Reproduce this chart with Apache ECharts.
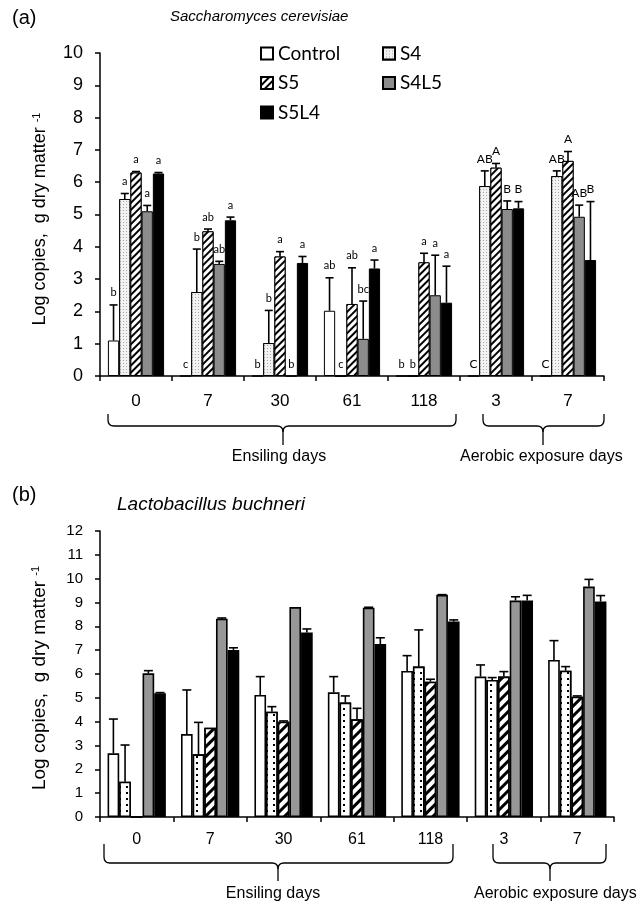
<!DOCTYPE html>
<html><head><meta charset="utf-8">
<script src="https://cdn.jsdelivr.net/npm/echarts@6/dist/echarts.min.js"></script>
<style>html,body{margin:0;padding:0;background:#fff}#c{width:638px;height:903px}</style>
</head><body><div id="c"></div><script>
// ---- data ----
const categories = ['0', '7', '30', '61', '118', '3', '7'];
const seriesNames = ['Control', 'S4', 'S5', 'S4L5', 'S5L4'];

// (a) Saccharomyces cerevisiae
const aControl = [1.1, 0, 0, 2.02, 0, 0, 0];
const aControlErr = [1.1, 0, 0, 1.02, 0, 0, 0];
const aS4 = [5.48, 2.6, 1.02, 0, 0, 5.88, 6.19];
const aS4Err = [0.17, 1.33, 1.01, 0, 0, 0.47, 0.16];
const aS5 = [6.3, 4.48, 3.7, 2.23, 3.52, 6.45, 6.66];
const aS5Err = [0.03, 0.07, 0.15, 1.12, 0.28, 0.13, 0.29];
const aS4L5 = [5.1, 3.47, 0, 1.15, 2.5, 5.17, 4.93];
const aS4L5Err = [0.18, 0.08, 0, 1.17, 1.24, 0.25, 0.36];
const aS5L4 = [6.27, 4.82, 3.5, 3.33, 2.27, 5.19, 3.59];
const aS5L4Err = [0.03, 0.1, 0.2, 0.26, 1.13, 0.21, 1.81];
const aControlLetters = ['b', 'c', 'b', 'ab', 'b', 'C', 'C'];
const aS4Letters = ['a', 'b', 'b', 'c', 'b', 'AB', 'AB'];
const aS5Letters = ['a', 'ab', 'a', 'ab', 'a', 'A', 'A'];
const aS4L5Letters = ['a', 'ab', 'b', 'bc', 'a', 'B', 'AB'];
const aS5L4Letters = ['a', 'a', 'a', 'a', 'a', 'B', 'B'];

// (b) Lactobacillus buchneri
const bControl = [2.67, 3.48, 5.12, 5.23, 6.13, 5.89, 6.59];
const bControlErr = [1.44, 1.85, 0.77, 0.66, 0.64, 0.49, 0.81];
const bS4 = [1.48, 2.63, 4.42, 4.8, 6.31, 5.75, 6.14];
const bS4Err = [1.54, 1.34, 0.21, 0.28, 1.54, 0.1, 0.17];
const bS5 = [0, 3.75, 4.0, 4.1, 5.68, 5.89, 5.05];
const bS5Err = [0, 0, 0.03, 0.46, 0.1, 0.21, 0.03];
const bS4L5 = [6.03, 8.32, 8.81, 8.78, 9.32, 9.08, 9.67];
const bS4L5Err = [0.11, 0.03, 0, 0.02, 0.01, 0.16, 0.3];
const bS5L4 = [5.19, 7.01, 7.74, 7.26, 8.2, 9.08, 9.04];
const bS5L4Err = [0.03, 0.09, 0.15, 0.26, 0.07, 0.22, 0.25];

// ---- styles ----
const ARIAL = '"Liberation Sans", Arial, sans-serif';
const CAL = 'Lato, "Open Sans", sans-serif';
const GAP_A = 0.22, GAP_B = 0.206;

const styleA = [
  { color: '#fff', borderColor: '#000', borderWidth: 1 },
  { color: '#efefef', borderColor: '#000', borderWidth: 1,
    decal: { symbol: 'rect', symbolSize: 1, dashArrayX: [1, 2], dashArrayY: [1, 2], color: '#a8a8a8', backgroundColor: '#f2f2f2' } },
  { color: '#fff', borderColor: '#000', borderWidth: 1,
    decal: { symbol: 'rect', symbolSize: 1, dashArrayX: [1, 0], dashArrayY: [1.4, 2.4], rotation: -Math.PI / 4, color: '#000', backgroundColor: '#fff' } },
  { color: '#8c8c8c', borderColor: '#000', borderWidth: 1 },
  { color: '#000', borderColor: '#000', borderWidth: 1 }
];
const styleB = [
  { color: '#fff', borderColor: '#000', borderWidth: 1.6 },
  { color: '#fff', borderColor: '#000', borderWidth: 1.6,
    decal: { symbol: 'rect', symbolSize: 1, dashArrayX: [1.6, 4.5], dashArrayY: [1.6, 4], color: '#000', backgroundColor: '#fff' } },
  { color: '#fff', borderColor: '#000', borderWidth: 1.6,
    decal: { symbol: 'rect', symbolSize: 1, dashArrayX: [1, 0], dashArrayY: [3, 3.5], rotation: -Math.PI / 4, color: '#000', backgroundColor: '#fff' } },
  { color: '#979797', borderColor: '#000', borderWidth: 1.6 },
  { color: '#000', borderColor: '#000', borderWidth: 1.6 }
];

function barSeries(gi, si, vals, st, gap) {
  return {
    type: 'bar', name: seriesNames[si], xAxisIndex: gi, yAxisIndex: gi,
    data: vals, barGap: '0%', barCategoryGap: (gap * 100) + '%',
    itemStyle: st, emphasis: { disabled: true }, z: 2
  };
}
function errSeries(gi, si, vals, errs, letters, gap, cap, lw) {
  return {
    type: 'custom', xAxisIndex: gi, yAxisIndex: gi, z: 5, silent: true, clip: false,
    data: vals.map((v, j) => [j, v, v + errs[j]]),
    encode: { x: 0, y: [1, 2] },
    renderItem: function (params, api) {
      const j = api.value(0), v = api.value(1), e = api.value(2);
      const band = api.size([1, 0])[0];
      const bw = band * (1 - gap) / 5;
      const x = api.coord([j, 0])[0] + (si - 2) * bw;
      const yV = api.coord([j, v])[1];
      const yE = api.coord([j, e])[1];
      const ch = [];
      if (e > v + 1e-9) {
        ch.push({ type: 'line', shape: { x1: x, y1: yV, x2: x, y2: yE }, style: { stroke: '#000', lineWidth: lw } });
        ch.push({ type: 'line', shape: { x1: x - cap, y1: yE, x2: x + cap, y2: yE }, style: { stroke: '#000', lineWidth: lw } });
      }
      if (letters) {
        const t = letters[params.dataIndex];
        const ly = (v === 0 ? yV : yE) - 12;
        ch.push({ type: 'text', x: x, y: ly, style: { text: t, fill: '#000', font: (t === t.toUpperCase() ? '12px ' : '11px ') + CAL, align: 'center', verticalAlign: 'middle' } });
      }
      return { type: 'group', children: ch };
    }
  };
}

const aVals = [aControl, aS4, aS5, aS4L5, aS5L4];
const aErrs = [aControlErr, aS4Err, aS5Err, aS4L5Err, aS5L4Err];
const aLets = [aControlLetters, aS4Letters, aS5Letters, aS4L5Letters, aS5L4Letters];
const bVals = [bControl, bS4, bS5, bS4L5, bS5L4];
const bErrs = [bControlErr, bS4Err, bS5Err, bS4L5Err, bS5L4Err];

const series = [];
aVals.forEach((v, i) => series.push(barSeries(0, i, v, styleA[i], GAP_A)));
bVals.forEach((v, i) => series.push(barSeries(1, i, v, styleB[i], GAP_B)));
aVals.forEach((v, i) => series.push(errSeries(0, i, v, aErrs[i], aLets[i], GAP_A, 4, 1.6)));
bVals.forEach((v, i) => series.push(errSeries(1, i, v, bErrs[i], null, GAP_B, 4.5, 1.6)));

function xAx(gi, fs, margin) {
  return {
    type: 'category', gridIndex: gi, data: categories,
    axisLine: { lineStyle: { color: '#000', width: 1.5 } },
    axisTick: { show: true, inside: false, length: 5, alignWithLabel: false, lineStyle: { color: '#000', width: 1.5 } },
    axisLabel: { margin: margin, fontSize: fs, color: '#000', fontFamily: ARIAL, interval: 0 },
    splitLine: { show: false }
  };
}
function yAx(gi, max, fs, margin) {
  return {
    type: 'value', gridIndex: gi, min: 0, max: max, interval: 1,
    axisLine: { show: true, lineStyle: { color: '#000', width: 1.5 } },
    axisTick: { show: true, inside: false, length: 5, lineStyle: { color: '#000', width: 1.5 } },
    axisLabel: { margin: margin, fontSize: fs, color: '#000', fontFamily: ARIAL },
    splitLine: { show: false }
  };
}

function brace(x1, x2, cx, yTop, yMid, yTip) {
  const r = 6, st = { stroke: '#000', lineWidth: 1.3, fill: null };
  return [
    { type: 'line', shape: { x1: x1, y1: yTop, x2: x1, y2: yMid - r }, style: st },
    { type: 'bezierCurve', shape: { x1: x1, y1: yMid - r, x2: x1 + r, y2: yMid, cpx1: x1, cpy1: yMid }, style: st },
    { type: 'line', shape: { x1: x1 + r, y1: yMid, x2: cx - r, y2: yMid }, style: st },
    { type: 'bezierCurve', shape: { x1: cx - r, y1: yMid, x2: cx, y2: yMid + r, cpx1: cx, cpy1: yMid }, style: st },
    { type: 'line', shape: { x1: cx, y1: yMid + r, x2: cx, y2: yTip }, style: st },
    { type: 'bezierCurve', shape: { x1: cx + r, y1: yMid, x2: cx, y2: yMid + r, cpx1: cx, cpy1: yMid }, style: st },
    { type: 'line', shape: { x1: cx + r, y1: yMid, x2: x2 - r, y2: yMid }, style: st },
    { type: 'bezierCurve', shape: { x1: x2 - r, y1: yMid, x2: x2, y2: yMid - r, cpx1: x2, cpy1: yMid }, style: st },
    { type: 'line', shape: { x1: x2, y1: yMid - r, x2: x2, y2: yTop }, style: st }
  ];
}
function txt(text, x, y, font, align, extra) {
  return Object.assign({ type: 'text', x: x, y: y, style: { text: text, font: font, fill: '#000', align: align || 'left', verticalAlign: 'middle' } }, extra || {});
}
function axisName(x, y, fs) {
  return { type: 'text', x: x, y: y, rotation: Math.PI / 2,
    style: { text: '{m|Log copies,  g dry matter }{s|-1}', align: 'center', verticalAlign: 'middle',
      rich: { m: { font: fs + 'px ' + ARIAL, fill: '#000' }, s: { font: Math.round(fs * 0.6) + 'px ' + ARIAL, fill: '#000', verticalAlign: 'top' } } } };
}

const graphics = [].concat(
  [txt('(a)', 12, 18, '20px ' + ARIAL),
   txt('Saccharomyces cerevisiae', 170, 17, 'italic 15px ' + ARIAL),
   txt('(b)', 12, 495, '20px ' + ARIAL),
   txt('Lactobacillus buchneri', 117, 505, 'italic 19px ' + ARIAL),
   axisName(40, 219, 18),
   axisName(40, 678, 19),
   txt('Ensiling days', 279, 457, '16px ' + ARIAL, 'center'),
   txt('Aerobic exposure days', 460, 457, '16px ' + ARIAL),
   txt('Ensiling days', 273, 894, '16px ' + ARIAL, 'center'),
   txt('Aerobic exposure days', 474, 894, '16px ' + ARIAL)],
  brace(108, 456, 283, 414, 426, 445),
  brace(483, 604, 543, 414, 426, 445),
  brace(104, 453, 278, 844, 863, 881),
  brace(493, 606, 550, 844, 863, 881)
);

const legendBase = {
  orient: 'vertical', icon: 'rect', itemWidth: 12, itemHeight: 12, itemGap: 10.5, itemGap2: 0,
  selectedMode: false, textStyle: { fontFamily: CAL, fontSize: 19, color: '#000', lineHeight: 19 }, itemTextGap: 6
};

const option = {
  animation: false,
  backgroundColor: '#fff',
  grid: [
    { left: 100, top: 53, width: 504, height: 323 },
    { left: 100, top: 531, width: 514, height: 286 }
  ],
  xAxis: [xAx(0, 17, 17), xAx(1, 16, 15)],
  yAxis: [yAx(0, 10, 18, 17), yAx(1, 12, 15, 17)],
  legend: [
    Object.assign({}, legendBase, { data: ['Control', 'S5', 'S5L4'], left: 255, top: 39 }),
    Object.assign({}, legendBase, { data: ['S4', 'S4L5'], left: 377, top: 39 })
  ],
  series: series,
  graphic: { elements: graphics }
};
const chart = echarts.init(document.getElementById('c'), null, { renderer: 'canvas' });
chart.setOption(option);
</script></body></html>
